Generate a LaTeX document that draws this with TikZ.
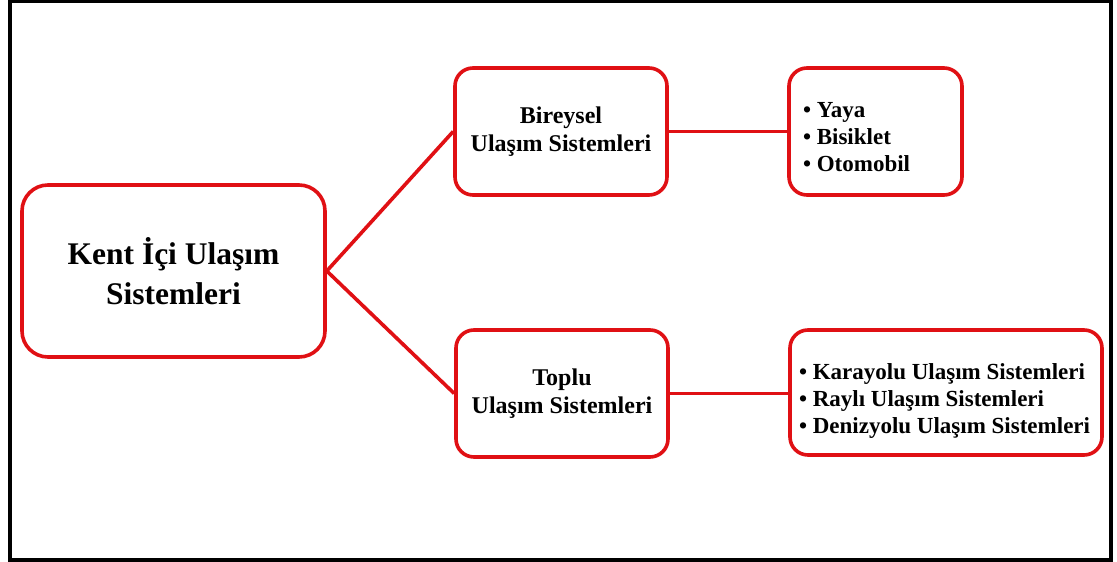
\documentclass[tikz,border=0pt]{standalone}
\usepackage{amsmath, amssymb}
\usepackage{fontspec}
\setmainfont{Liberation Serif}
\definecolor{kirmizi}{RGB}{224,16,20}

\begin{document}
\begin{tikzpicture}[x=1pt,y=1pt,
    kutu/.style={draw=kirmizi, line width=3.6pt, rounded corners=18pt, fill=white, font=\bfseries\fontsize{24}{28}\selectfont, align=center},
    liste/.style={kutu, font=\bfseries\fontsize{23}{27}\selectfont, align=flush left, inner xsep=9pt},
    bag/.style={draw=kirmizi, line width=3.6pt}]
                            \useasboundingbox (0,0) rectangle (1117,562);
                            \draw[line width=4pt] (10,2) rectangle (1111,560.5);

                            \node[kutu, minimum width=303pt, minimum height=172pt, rounded corners=26pt, font=\bfseries\fontsize{31.5}{40}\selectfont] (kent) at (173.5,291) {Kent İçi Ulaşım\\Sistemleri};
                            \node[kutu, minimum width=212pt, minimum height=127pt] (bireysel) at (561,430.5) {Bireysel\\Ulaşım Sistemleri};
                            \node[kutu, minimum width=212pt, minimum height=127pt] (toplu) at (562,168.5) {Toplu\\Ulaşım Sistemleri};
                            \node[liste, text width=145pt, minimum height=127pt, inner xsep=14pt, text height=27pt] (bireyselliste) at (875.5,430.5) {• Yaya\\• Bisiklet\\• Otomobil};
                            \node[liste, text width=294pt, minimum height=125pt, text height=32pt] (topluliste) at (946,169.5) {• Karayolu Ulaşım Sistemleri\\• Raylı Ulaşım Sistemleri\\• Denizyolu Ulaşım Sistemleri};

                            \draw[bag] (kent.east) -- (bireysel.west);
                            \draw[bag] (kent.east) -- (toplu.west);
                            \draw[bag] (bireysel.east) -- (bireyselliste.west);
                            \draw[bag] (toplu.east) -- (toplu.east -| topluliste.west);

                        \end{tikzpicture}
\end{document}
